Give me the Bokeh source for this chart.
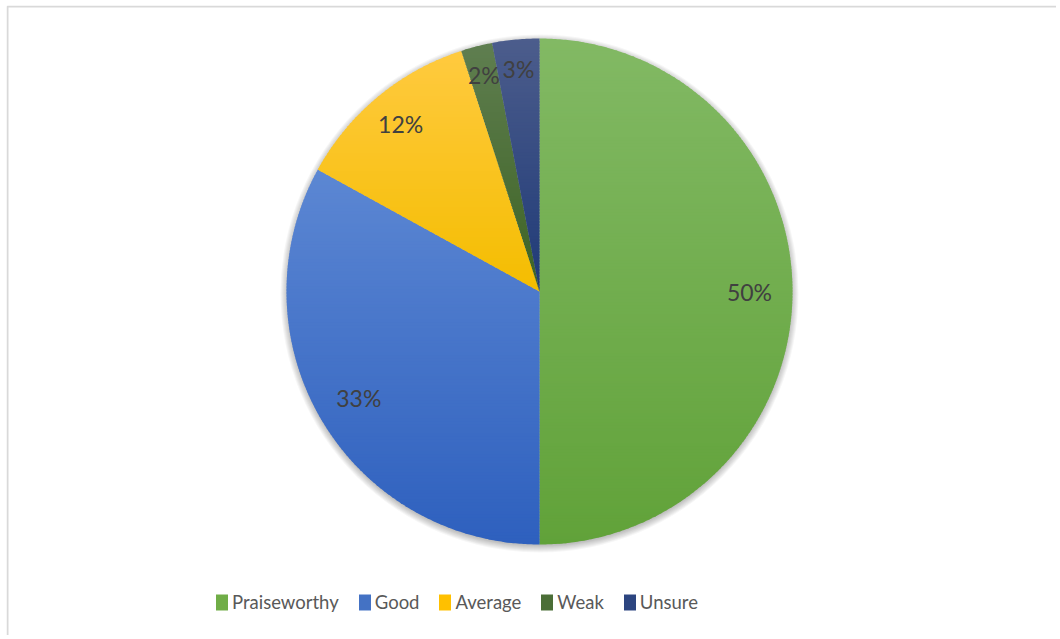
import numpy as np
from bokeh.plotting import figure
from bokeh.models import Range1d, Legend, LegendItem, ColumnDataSource
from bokeh.core.properties import value
from bokeh.embed import file_html
from bokeh.resources import INLINE

# ---- data ----
categories = ["Praiseworthy", "Good", "Average", "Weak", "Unsure"]
shares = [50, 33, 12, 2, 3]
labels = ["50%", "33%", "12%", "2%", "3%"]
top_colors = ["#82b964", "#5c87d3", "#ffca3f", "#5f7e50", "#4c5d8c"]
bottom_colors = ["#61a239", "#2e60be", "#f4bd00", "#3d6323", "#1f3a77"]
legend_colors = ["#70ad47", "#4472c4", "#ffc000", "#4b6e37", "#2c4580"]

# ---- layout (page pixel coordinates) ----
X0, X1 = 6, 1056
Y0, Y1 = 5, 635
W, H = X1 - X0, Y1 - Y0
CX, CY, R = 539, 291, 253

p = figure(width=W, height=H, x_range=Range1d(X0, X1), y_range=Range1d(Y1, Y0),
           output_backend="svg", toolbar_location=None, min_border=0,
           margin=(5, 0, 0, 6))
p.axis.visible = False
p.grid.visible = False
p.outline_line_color = None
p.background_fill_color = "white"
p.border_fill_color = "white"

# chart border
p.quad(left=[X0 + 1], right=[X1 + 30], top=[Y0 + 1], bottom=[Y1 + 30],
       fill_color=None, line_color="#d9d9d9", line_width=2)

# shadow
for k in range(8):
    p.circle(x=[CX], y=[CY + 2], radius=R - 1 + k, fill_color="black",
             fill_alpha=0.035, line_color=None)


def hex2rgb(h):
    h = h.lstrip("#")
    return np.array([int(h[i:i + 2], 16) for i in (0, 2, 4)], dtype=float)


def rgb2hex(c):
    c = np.clip(np.round(c), 0, 255).astype(int)
    return "#%02x%02x%02x" % tuple(c)


def clip_half(pts, keep, y):
    out = []
    n = len(pts)
    for i in range(n):
        cur, prev = pts[i], pts[i - 1]
        kc, kp = keep(cur), keep(prev)
        if kc:
            if not kp:
                t = (y - prev[1]) / (cur[1] - prev[1])
                out.append((prev[0] + t * (cur[0] - prev[0]), y))
            out.append(cur)
        elif kp:
            t = (y - prev[1]) / (cur[1] - prev[1])
            out.append((prev[0] + t * (cur[0] - prev[0]), y))
    return out


def clip_strip(poly, ylo, yhi):
    pts = clip_half(poly, lambda q: q[1] >= ylo, ylo)
    if pts:
        pts = clip_half(pts, lambda q: q[1] <= yhi, yhi)
    return pts


fr = np.array(shares, dtype=float) / sum(shares)
ends = np.cumsum(fr) * 2 * np.pi
starts = ends - fr * 2 * np.pi

xs_all, ys_all, col_all = [], [], []
for i in range(len(categories)):
    a0, a1 = starts[i], ends[i]
    n = max(4, int((a1 - a0) * R / 2))
    t = np.linspace(a0, a1, n)
    poly = [(CX, CY)] + list(zip(CX + R * np.sin(t), CY - R * np.cos(t)))
    ys_poly = [q[1] for q in poly]
    ymin, ymax = min(ys_poly), max(ys_poly)
    c0, c1 = hex2rgb(top_colors[i]), hex2rgb(bottom_colors[i])
    step = 3.0
    y = ymin
    while y < ymax:
        seg = clip_strip(poly, y, min(y + step + 1.0, ymax))
        if len(seg) >= 3:
            f = (y + step / 2 - ymin) / max(ymax - ymin, 1)
            xs_all.append([q[0] for q in seg])
            ys_all.append([q[1] for q in seg])
            col_all.append(rgb2hex(c0 + (c1 - c0) * min(max(f, 0), 1)))
        y += step

p.patches(xs=xs_all, ys=ys_all, fill_color=col_all, line_color=None)

# data labels (narrow slices get their label pushed further out, like best-fit)
mids = (starts + ends) / 2
label_r = R * (0.89 - 0.06 * np.minimum(1.0, np.array(shares, dtype=float) / 25.0))
lx = CX + label_r * np.sin(mids)
ly = CY - label_r * np.cos(mids)
p.text(x=lx, y=ly, text=labels, text_font=value("Lato"), text_font_size="23px",
       text_color="#404040", text_align="center", text_baseline="middle")

# legend
leg_src = ColumnDataSource(dict(x=[np.nan] * len(categories), y=[np.nan] * len(categories),
                                c=legend_colors))
lr = p.rect(x="x", y="y", width=1, height=1, fill_color="c", line_color=None, source=leg_src)
items = [LegendItem(label=categories[i], renderers=[lr], index=i) for i in range(len(categories))]
legend = Legend(items=items, orientation="horizontal", location=(208, 22),
                glyph_width=15, glyph_height=20, label_standoff=3, spacing=18,
                padding=0, margin=0, border_line_alpha=0, background_fill_alpha=0,
                label_text_font="Lato", label_text_font_size="18.5px",
                label_text_color="#595959", label_height=20)
p.add_layout(legend, "center")

open("out.html", "w").write(file_html(p, INLINE))
